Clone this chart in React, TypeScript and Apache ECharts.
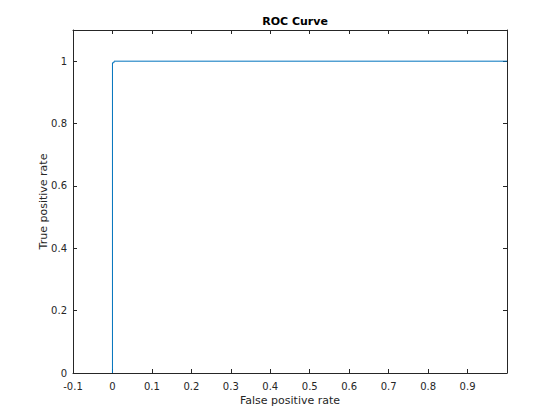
import React, { useEffect, useRef } from "react";
import * as echarts from "echarts";

const fprValues = [0, 0, 0.004, 0.004, 1];
const tprValues = [0, 0.995, 0.995, 1, 1];
const titleText = "ROC Curve";
const xName = "False positive rate";
const yName = "True positive rate";

const FONT = "DejaVu Sans";
const INK = "#262626";

function fmt(v: number) {
  const r = Math.round(v * 10) / 10;
  return String(r);
}

export default function App() {
  const ref = useRef<HTMLDivElement>(null);
  useEffect(() => {
    if (!ref.current) return;
    const chart = echarts.init(ref.current, undefined, { renderer: "svg" });
    const data = fprValues.map((x, i) => [x, tprValues[i]]);
    const axisCommon = {
      type: "value" as const,
      splitLine: { show: false },
      axisLine: { show: true, onZero: false, lineStyle: { color: INK, width: 1 } },
      axisTick: { show: true, inside: true, length: 4, lineStyle: { color: INK } },
    };
    chart.setOption({
      animation: false,
      backgroundColor: "#ffffff",
      title: {
        text: titleText,
        left: 290,
        textAlign: "center",
        top: 11,
        textStyle: { fontFamily: FONT, fontSize: 11, fontWeight: "bold", color: "#000" },
      },
      grid: { left: 73, right: 53, top: 30, bottom: 47 },
      xAxis: [
        {
          ...axisCommon,
          position: "bottom",
          min: -0.1,
          max: 1,
          interval: 0.1,
          name: xName,
          nameLocation: "middle",
          nameGap: 22,
          nameMoveOverlap: false,
          nameTextStyle: { fontFamily: FONT, fontSize: 11, color: INK },
          axisLabel: {
            fontFamily: FONT,
            fontSize: 10,
            color: INK,
            margin: 8,
            formatter: (v: number) => (v > 0.95 ? "" : fmt(v)),
          },
        },
        {
          ...axisCommon,
          position: "top",
          min: -0.1,
          max: 1,
          interval: 0.1,
          axisLabel: { show: false },
        },
      ],
      yAxis: [
        {
          ...axisCommon,
          position: "left",
          min: 0,
          max: 1.1,
          interval: 0.2,
          name: yName,
          nameLocation: "middle",
          nameGap: 24,
          nameMoveOverlap: false,
          nameTextStyle: { fontFamily: FONT, fontSize: 11, color: INK },
          axisLabel: {
            fontFamily: FONT,
            fontSize: 10,
            color: INK,
            margin: 6,
            formatter: (v: number) => (v > 1.05 ? "" : fmt(v)),
          },
        },
        {
          ...axisCommon,
          position: "right",
          min: 0,
          max: 1.1,
          interval: 0.2,
          axisLabel: { show: false },
        },
      ],
      series: [
        {
          type: "line",
          data,
          showSymbol: false,
          symbol: "none",
          lineStyle: { color: "#0072BD", width: 1 },
          clip: true,
        },
      ],
    });
    return () => chart.dispose();
  }, []);
  return <div ref={ref} style={{ width: 560, height: 420, position: "absolute", left: 0, top: 0 }} />;
}
